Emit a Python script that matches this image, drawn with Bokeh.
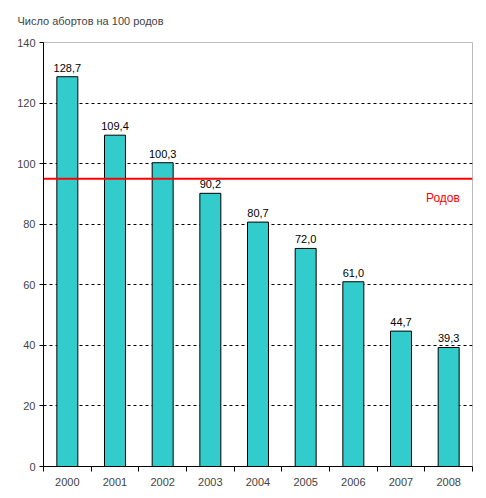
from bokeh.plotting import figure
from bokeh.models import FixedTicker, Span, ColumnDataSource, Range1d
from bokeh.core.properties import value
from bokeh.embed import file_html
from bokeh.resources import INLINE

years = ["2000", "2001", "2002", "2003", "2004", "2005", "2006", "2007", "2008"]
abortions = [128.7, 109.4, 100.3, 90.2, 80.7, 72.0, 61.0, 44.7, 39.3]
labels = ["128,7", "109,4", "100,3", "90,2", "80,7", "72,0", "61,0", "44,7", "39,3"]
births_level = 95
births_label = "Родов"
title_text = "Число абортов на 100 родов"
y_ticks = [0, 20, 40, 60, 80, 100, 120, 140]

FONT = "Liberation Sans"

xs = [i + 0.5 for i in range(len(years))]
src = ColumnDataSource(dict(x=xs, top=abortions, lab=labels))

p = figure(width=478, height=490, output_backend="svg", toolbar_location=None,
           x_range=Range1d(0, len(years)), y_range=Range1d(0, 140),
           min_border_left=43, min_border_right=6, min_border_top=42, min_border_bottom=24)

p.title.text = title_text
p.title.text_font = FONT
p.title.text_font_size = "11px"
p.title.text_font_style = "normal"
p.title.align = "left"
p.title.vertical_align = "top"
p.title.offset = -26
p.title.standoff = 28

p.outline_line_color = "#BBBBBB"
p.outline_line_width = 1

p.xgrid.visible = False
p.ygrid.ticker = FixedTicker(ticks=[20, 40, 60, 80, 100, 120])
p.ygrid.grid_line_color = "black"
p.ygrid.grid_line_dash = "3 3"
p.ygrid.grid_line_width = 1

p.vbar(x="x", top="top", width=0.44, bottom=0, source=src,
       fill_color="#33CCCC", line_color="black", line_width=1)

p.add_layout(Span(location=births_level, dimension="width",
                  line_color="#FF0000", line_width=2))

p.text(x=[8.38], y=[births_level], text=[births_label], text_color="#FF0000",
       text_font=value(FONT), text_font_size="12px", text_align="center",
       text_baseline="middle", y_offset=19)

p.text(x="x", y="top", text="lab", source=src, text_font=value(FONT),
       text_font_size="11px", text_align="center", text_baseline="bottom",
       y_offset=-5, text_color="black")

# x axis
xa = p.xaxis[0]
xa.ticker = FixedTicker(ticks=xs, minor_ticks=list(range(len(years) + 1)))
xa.major_label_overrides = {x: y for x, y in zip(xs, years)}
xa.major_tick_out = 0
xa.major_tick_in = 0
xa.minor_tick_out = 5
xa.minor_tick_in = 0
xa.minor_tick_line_color = "black"
xa.axis_line_color = "black"
xa.major_label_text_font = FONT
xa.major_label_text_font_size = "11px"
xa.major_label_standoff = 6

ya = p.yaxis[0]
ya.ticker = FixedTicker(ticks=y_ticks)
ya.major_tick_out = 4
ya.major_tick_in = 0
ya.minor_tick_out = 0
ya.axis_line_color = "black"
ya.major_tick_line_color = "black"
ya.major_label_text_font = FONT
ya.major_label_text_font_size = "11px"
ya.major_label_standoff = 4

open("out.html", "w").write(file_html(p, INLINE))
